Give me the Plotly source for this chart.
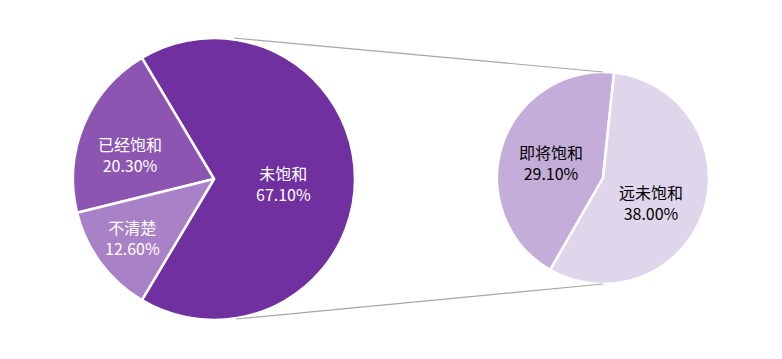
import plotly.graph_objects as go

W, H = 782, 359

# Data
main_labels = ["未饱和", "已经饱和", "不清楚"]
main_values = [67.10, 20.30, 12.60]
sub_labels = ["即将饱和", "远未饱和"]
sub_values = [29.10, 38.00]

main_colors = ["#7030A0", "#8C55B2", "#A981C7"]
sub_colors = ["#C5ADD9", "#E0D6EC"]


def px(x):
    return x / W


def py(y):
    return 1 - y / H


fig = go.Figure()

# Left pie: centre (214,179), r=141; first slice centred on 3 o'clock
half_main = 360 * main_values[0] / sum(main_values) / 2
fig.add_trace(go.Pie(
    labels=main_labels, values=main_values, sort=False,
    direction="counterclockwise",
    rotation=90 - half_main,
    marker=dict(colors=main_colors, line=dict(color="white", width=2.5)),
    textinfo="none", hoverinfo="label+percent", showlegend=False,
    domain=dict(x=[px(73), px(355)], y=[py(320), py(38)]),
))

# Right pie: centre (603,178), r=106; first slice starts at 84 deg
sub_span = 360 * sub_values[0] / sum(sub_values)
fig.add_trace(go.Pie(
    labels=sub_labels, values=sub_values, sort=False,
    direction="counterclockwise",
    rotation=90 - (84 + sub_span),
    marker=dict(colors=sub_colors, line=dict(color="white", width=2.5)),
    textinfo="none", hoverinfo="label+value", showlegend=False,
    domain=dict(x=[px(497), px(709)], y=[py(284), py(72)]),
))

# Connector lines
fig.add_shape(type="line", xref="paper", yref="paper",
              x0=px(234), y0=py(38), x1=px(603), y1=py(72),
              line=dict(color="#A6A6A6", width=1.2))
fig.add_shape(type="line", xref="paper", yref="paper",
              x0=px(236), y0=py(319), x1=px(603), y1=py(284),
              line=dict(color="#A6A6A6", width=1.2))

# Label positions (pixels)
label_pos = {
    "未饱和": (283, 183, "white"),
    "已经饱和": (130, 154, "white"),
    "不清楚": (132, 237, "white"),
    "即将饱和": (551, 162, "black"),
    "远未饱和": (651, 202, "black"),
}
for lab, val in list(zip(main_labels, main_values)) + list(zip(sub_labels, sub_values)):
    x, y, c = label_pos[lab]
    fig.add_annotation(x=px(x), y=py(y), xref="paper", yref="paper",
                       text=f"{lab}<br>{val:.2f}%", showarrow=False,
                       font=dict(family="Noto Sans CJK SC", size=16, color=c),
                       align="center", xanchor="center", yanchor="middle")

fig.update_layout(width=W, height=H, margin=dict(l=0, r=0, t=0, b=0),
                  paper_bgcolor="white", plot_bgcolor="white")

fig.write_html("out.html")
